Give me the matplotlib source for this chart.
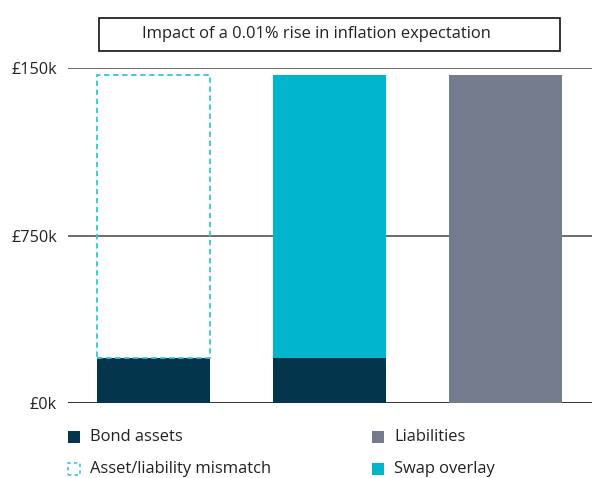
import matplotlib.pyplot as plt
from matplotlib.patches import Rectangle

plt.rcParams['font.family'] = ['Open Sans', 'DejaVu Sans']

# -------------------- Data --------------------
positions = [0, 1, 2]
bond_assets = [200, 200, 0]
swap_overlay = [0, 1270, 0]
liabilities = [0, 0, 1470]
mismatch = [1270, 0, 0]
tick_values = [0, 750, 1500]
tick_labels = ["£0k", "£750k", "£150k"]
title_text = "Impact of a 0.01% rise in inflation expectation"

bond_color = "#03354d"
swap_color = "#00b5cc"
liab_color = "#737b8c"
dash_color = "#3cc3d8"

# -------------------- Figure --------------------
fig = plt.figure(figsize=(5.92, 4.78), dpi=100)
ax = fig.add_axes([68 / 592, 1 - 403 / 478, 524 / 592, 335 / 478])

w = 0.642
ax.bar(positions, bond_assets, width=w, color=bond_color, linewidth=0, zorder=2)
ax.bar(positions, swap_overlay, width=w, bottom=bond_assets, color=swap_color,
       linewidth=0, zorder=2)
ax.bar(positions, liabilities, width=w, color=liab_color, linewidth=0, zorder=2)
# dashed outline only where there is a mismatch
mm_pos = [p for p, m in zip(positions, mismatch) if m]
mm_val = [m for m in mismatch if m]
mm_bot = [b for b, m in zip(bond_assets, mismatch) if m]
ax.bar(mm_pos, mm_val, width=w, bottom=mm_bot, facecolor="none",
       edgecolor=dash_color, linestyle=(0, (3, 2)), linewidth=1.3, zorder=3)

ax.set_xlim(-0.486, 2.49)
ax.set_ylim(0, 1500)
for v in tick_values:
    ax.axhline(v, color="#6b6b6b" if v else "#333333", linewidth=1.4, zorder=1)

ax.set_yticks(tick_values)
ax.set_yticklabels(tick_labels, fontsize=11.7, color="#222222")
ax.tick_params(axis="y", length=0, pad=8)
ax.set_xticks([])
for s in ax.spines.values():
    s.set_visible(False)

# title box
fig.patches.append(Rectangle((99 / 592, 1 - 51 / 478), 461 / 592, 33 / 478,
                             transform=fig.transFigure, facecolor="white",
                             edgecolor="#111111", linewidth=1.2))
fig.text(316 / 592, 1 - 34 / 478, title_text, ha="center", va="center",
         fontsize=11.9, color="#222222")

# -------------------- Legend --------------------
def legend_item(x, y, label, face, edge=None, dashed=False):
    size_w, size_h = 12 / 592, 12 / 478
    fig.patches.append(Rectangle((x / 592, 1 - y / 478 - size_h / 2), size_w, size_h,
                                 transform=fig.transFigure,
                                 facecolor=face, edgecolor=edge if edge else face,
                                 linestyle=(0, (2, 2)) if dashed else "-",
                                 linewidth=1.2 if dashed else 0))
    fig.text((x + 22) / 592, 1 - y / 478, label, ha="left", va="center",
             fontsize=11.9, color="#222222")

legend_item(68, 437, "Bond assets", bond_color)
legend_item(68, 469, "Asset/liability mismatch", "none", dash_color, dashed=True)
legend_item(372, 437, "Liabilities", liab_color)
legend_item(372, 469, "Swap overlay", swap_color)

fig.savefig("out.png", dpi=100)
